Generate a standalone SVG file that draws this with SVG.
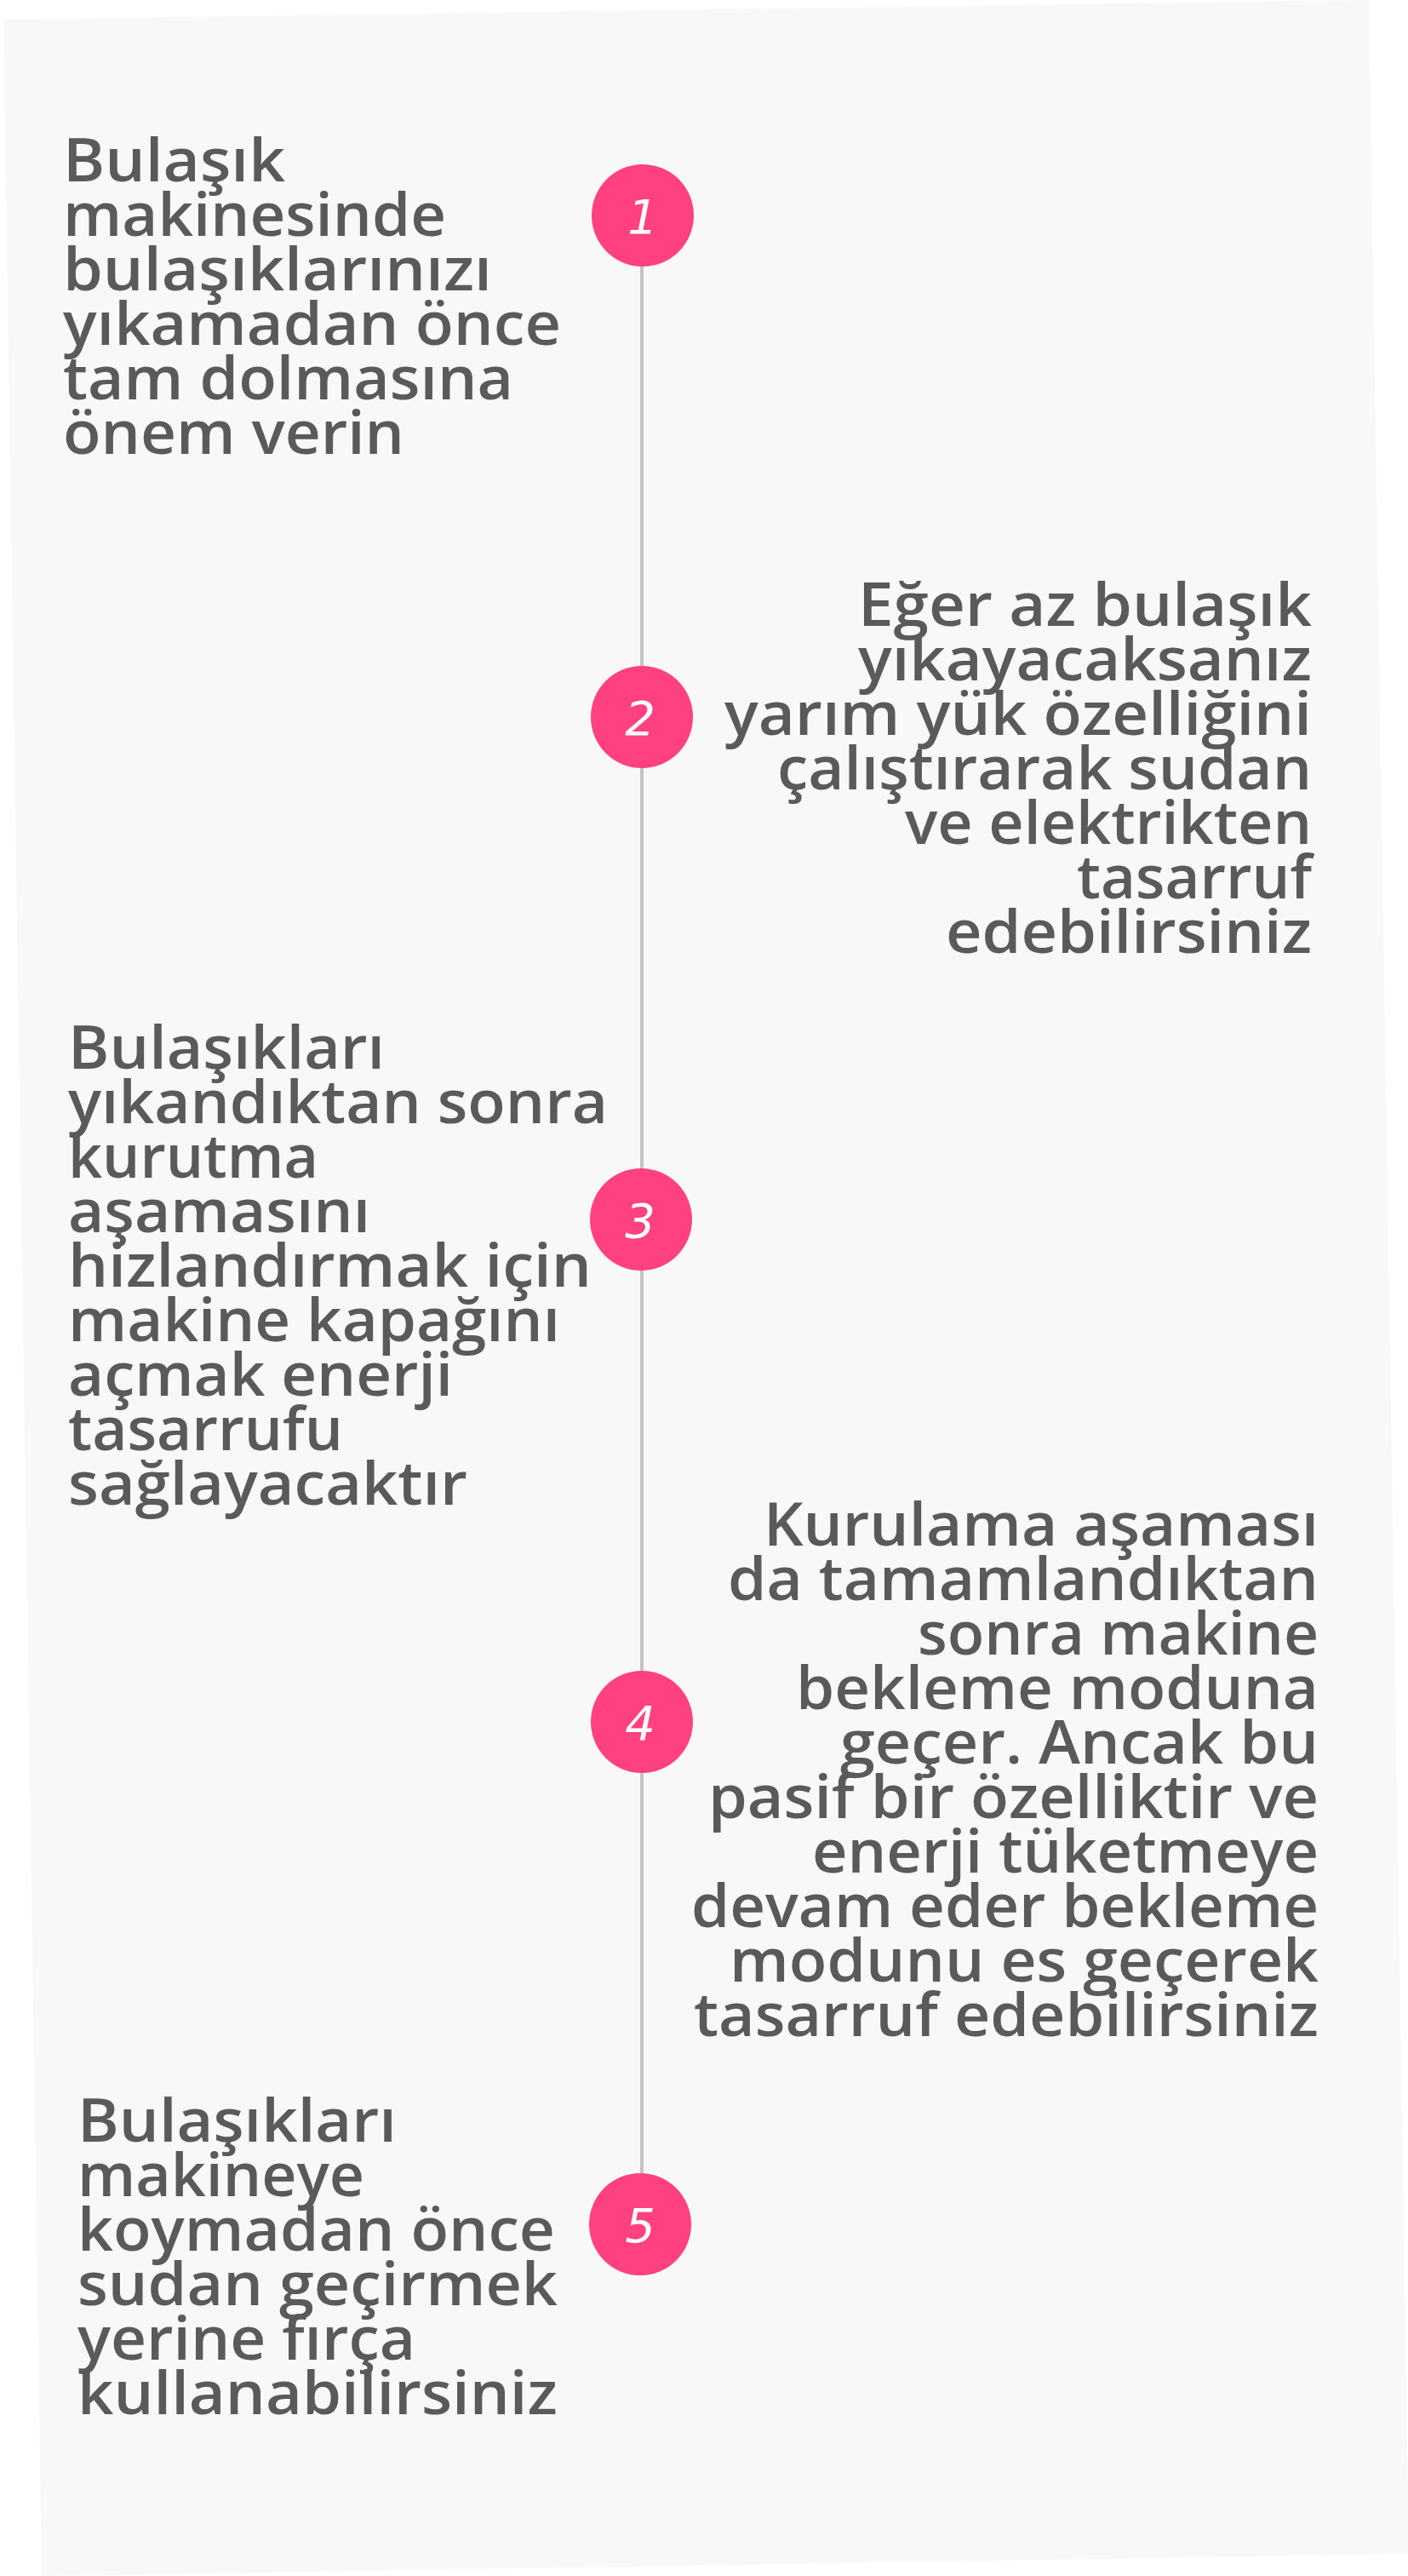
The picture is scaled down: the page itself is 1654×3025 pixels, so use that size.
<svg xmlns="http://www.w3.org/2000/svg" width="1654" height="3025" viewBox="0 0 1654 3025">
<style>
.bg{fill:#f8f8f8}
.txt{font-family:"Open Sans","Noto Sans","DejaVu Sans",sans-serif;font-size:70px;font-weight:600;fill:#5a5a5a}
.r{text-anchor:end}
.dot{fill:#ff4081}
.num{font-family:"DejaVu Sans","Liberation Sans",sans-serif;font-style:italic;font-size:56px;fill:#ffffff;text-anchor:middle}
.conn{stroke:#c4c4c4;stroke-width:4;fill:none}
</style>
<rect width="1654" height="3025" fill="#ffffff"/>
<polygon class="bg" points="4,23 1608,0 1655,2999 49,3025"/>
<g id="connectors">
<line class="conn" x1="754" y1="313" x2="754" y2="782"/>
<line class="conn" x1="754" y1="902" x2="754" y2="1372"/>
<line class="conn" x1="754" y1="1492" x2="754" y2="1962"/>
<line class="conn" x1="754" y1="2082" x2="754" y2="2552"/>
</g>
<g id="node1">
<circle class="dot" cx="755" cy="253" r="60"/>
<text class="num" x="755" y="274">1</text>
<text class="txt" x="74" y="213" textLength="261" lengthAdjust="spacingAndGlyphs">Bulaşık</text>
<text class="txt" x="74" y="277" textLength="450" lengthAdjust="spacingAndGlyphs">makinesinde</text>
<text class="txt" x="74" y="341" textLength="504" lengthAdjust="spacingAndGlyphs">bulaşıklarınızı</text>
<text class="txt" x="74" y="405" textLength="585" lengthAdjust="spacingAndGlyphs">yıkamadan önce</text>
<text class="txt" x="74" y="469" textLength="529" lengthAdjust="spacingAndGlyphs">tam dolmasına</text>
<text class="txt" x="74" y="533" textLength="401" lengthAdjust="spacingAndGlyphs">önem verin</text>
</g>
<g id="node2">
<circle class="dot" cx="754" cy="842" r="60"/>
<text class="num" x="752" y="863">2</text>
<text class="txt r" x="1541" y="735" textLength="533" lengthAdjust="spacingAndGlyphs">Eğer az bulaşık</text>
<text class="txt r" x="1541" y="799" textLength="533" lengthAdjust="spacingAndGlyphs">yıkayacaksanız</text>
<text class="txt r" x="1541" y="863" textLength="690" lengthAdjust="spacingAndGlyphs">yarım yük özelliğini</text>
<text class="txt r" x="1541" y="927" textLength="628" lengthAdjust="spacingAndGlyphs">çalıştırarak sudan</text>
<text class="txt r" x="1541" y="991" textLength="478" lengthAdjust="spacingAndGlyphs">ve elektrikten</text>
<text class="txt r" x="1541" y="1055" textLength="276" lengthAdjust="spacingAndGlyphs">tasarruf</text>
<text class="txt r" x="1541" y="1119" textLength="430" lengthAdjust="spacingAndGlyphs">edebilirsiniz</text>
</g>
<g id="node3">
<circle class="dot" cx="753" cy="1432" r="60"/>
<text class="num" x="752" y="1453">3</text>
<text class="txt" x="80" y="1255" textLength="372" lengthAdjust="spacingAndGlyphs">Bulaşıkları</text>
<text class="txt" x="80" y="1319" textLength="634" lengthAdjust="spacingAndGlyphs">yıkandıktan sonra</text>
<text class="txt" x="80" y="1383" textLength="294" lengthAdjust="spacingAndGlyphs">kurutma</text>
<text class="txt" x="80" y="1447" textLength="355" lengthAdjust="spacingAndGlyphs">aşamasını</text>
<text class="txt" x="80" y="1511" textLength="615" lengthAdjust="spacingAndGlyphs">hizlandırmak için</text>
<text class="txt" x="80" y="1575" textLength="578" lengthAdjust="spacingAndGlyphs">makine kapağını</text>
<text class="txt" x="80" y="1639" textLength="452" lengthAdjust="spacingAndGlyphs">açmak enerji</text>
<text class="txt" x="80" y="1703" textLength="323" lengthAdjust="spacingAndGlyphs">tasarrufu</text>
<text class="txt" x="80" y="1767" textLength="469" lengthAdjust="spacingAndGlyphs">sağlayacaktır</text>
</g>
<g id="node4">
<circle class="dot" cx="754" cy="2022" r="60"/>
<text class="num" x="752" y="2043">4</text>
<text class="txt r" x="1549" y="1815" textLength="652" lengthAdjust="spacingAndGlyphs">Kurulama aşaması</text>
<text class="txt r" x="1549" y="1879" textLength="694" lengthAdjust="spacingAndGlyphs">da tamamlandıktan</text>
<text class="txt r" x="1549" y="1943" textLength="471" lengthAdjust="spacingAndGlyphs">sonra makine</text>
<text class="txt r" x="1549" y="2007" textLength="614" lengthAdjust="spacingAndGlyphs">bekleme moduna</text>
<text class="txt r" x="1549" y="2071" textLength="562" lengthAdjust="spacingAndGlyphs">geçer. Ancak bu</text>
<text class="txt r" x="1549" y="2135" textLength="717" lengthAdjust="spacingAndGlyphs">pasif bir özelliktir ve</text>
<text class="txt r" x="1549" y="2199" textLength="595" lengthAdjust="spacingAndGlyphs">enerji tüketmeye</text>
<text class="txt r" x="1549" y="2263" textLength="737" lengthAdjust="spacingAndGlyphs">devam eder bekleme</text>
<text class="txt r" x="1549" y="2327" textLength="692" lengthAdjust="spacingAndGlyphs">modunu es geçerek</text>
<text class="txt r" x="1549" y="2391" textLength="734" lengthAdjust="spacingAndGlyphs">tasarruf edebilirsiniz</text>
</g>
<g id="node5">
<circle class="dot" cx="752" cy="2612" r="60"/>
<text class="num" x="752" y="2633">5</text>
<text class="txt" x="91" y="2515" textLength="375" lengthAdjust="spacingAndGlyphs">Bulaşıkları</text>
<text class="txt" x="91" y="2579" textLength="337" lengthAdjust="spacingAndGlyphs">makineye</text>
<text class="txt" x="91" y="2643" textLength="561" lengthAdjust="spacingAndGlyphs">koymadan önce</text>
<text class="txt" x="91" y="2707" textLength="564" lengthAdjust="spacingAndGlyphs">sudan geçirmek</text>
<text class="txt" x="91" y="2771" textLength="397" lengthAdjust="spacingAndGlyphs">yerine fırça</text>
<text class="txt" x="91" y="2835" textLength="564" lengthAdjust="spacingAndGlyphs">kullanabilirsiniz</text>
</g>
</svg>
